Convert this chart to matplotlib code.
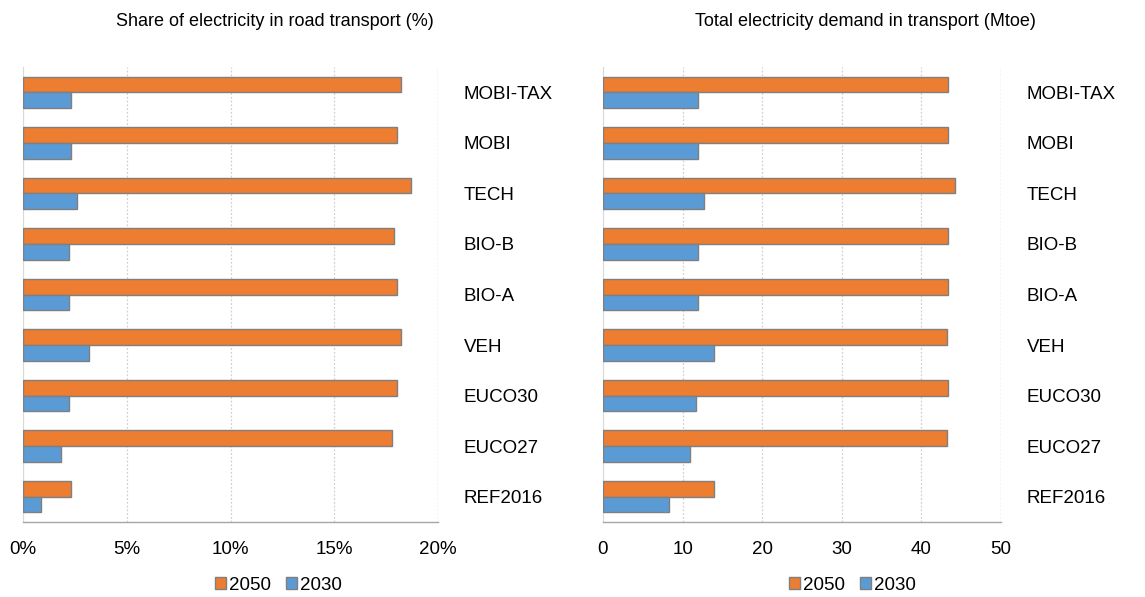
import numpy as np
import matplotlib
matplotlib.use("Agg")
import matplotlib.pyplot as plt
from matplotlib.patches import Patch

plt.rcParams['font.family'] = ['Liberation Sans', 'DejaVu Sans']

# categories top to bottom
scenarios = ['MOBI-TAX', 'MOBI', 'TECH', 'BIO-B', 'BIO-A', 'VEH', 'EUCO30', 'EUCO27', 'REF2016']

# share of electricity in road transport (%)
share_2050 = [18.2, 18.0, 18.7, 17.9, 18.0, 18.2, 18.0, 17.8, 2.3]
share_2030 = [2.3, 2.3, 2.6, 2.2, 2.2, 3.2, 2.2, 1.85, 0.85]

# total electricity demand in transport (Mtoe)
demand_2050 = [43.4, 43.4, 44.2, 43.4, 43.4, 43.2, 43.4, 43.2, 14.0]
demand_2030 = [11.9, 11.9, 12.7, 11.9, 11.9, 14.0, 11.7, 10.9, 8.3]

orange = '#ED7D31'
blue = '#5B9BD5'
edge = '#7F7F7F'

fig = plt.figure(figsize=(11.45, 5.97), dpi=100)
ax1 = fig.add_axes([23 / 1145, 1 - 522 / 597, 415 / 1145, 455 / 597])
ax2 = fig.add_axes([603 / 1145, 1 - 522 / 597, 398 / 1145, 455 / 597])


def draw(ax, v50, v30, xmax, ticks, ticklabels):
    y = np.arange(len(scenarios))
    h = 0.31
    ax.barh(y - h / 2, v50, height=h, color=orange, edgecolor=edge, linewidth=1.0, zorder=3)
    ax.barh(y + h / 2, v30, height=h, color=blue, edgecolor=edge, linewidth=1.0, zorder=3)
    ax.set_ylim(len(scenarios) - 0.5, -0.5)
    ax.set_xlim(0, xmax)
    ax.set_xticks(ticks)
    ax.set_xticklabels(ticklabels, fontsize=13.5)
    ax.set_yticks(y)
    ax.set_yticklabels(scenarios, fontsize=13.5, ha='left')
    ax.yaxis.tick_right()
    ax.tick_params(axis='y', length=0, pad=18.5)
    ax.tick_params(axis='x', length=0, pad=14)
    ax.grid(axis='x', color='#D0D0D0', linestyle=(0, (1.5, 1.5)), linewidth=0.9, zorder=0)
    for s in ['top', 'right']:
        ax.spines[s].set_visible(False)
    ax.spines['left'].set_color('#D9D9D9')
    ax.spines['bottom'].set_color('#A6A6A6')
    ax.spines['bottom'].set_linewidth(1.0)


draw(ax1, share_2050, share_2030, 20, [0, 5, 10, 15, 20], ['0%', '5%', '10%', '15%', '20%'])
draw(ax2, demand_2050, demand_2030, 50, [0, 10, 20, 30, 40, 50], ['0', '10', '20', '30', '40', '50'])
# last gridline on right edge
for ax in (ax1, ax2):
    ax.axvline(ax.get_xlim()[1], color='#D0D0D0', linestyle=(0, (1.5, 1.5)), linewidth=0.9, zorder=0)

fig.text(275 / 1145, 1 - 22 / 597, 'Share of electricity in road transport (%)',
         ha='center', va='center', fontsize=13)
fig.text(865 / 1145, 1 - 22 / 597, 'Total electricity demand in transport (Mtoe)',
         ha='center', va='center', fontsize=13)

handles = [Patch(facecolor=orange, edgecolor=edge, label='2050'),
           Patch(facecolor=blue, edgecolor=edge, label='2030')]
for cx in (278, 852):
    fig.legend(handles=handles, loc='center', bbox_to_anchor=(cx / 1145, 1 - 585 / 597),
               ncol=2, frameon=False, fontsize=13.5, handlelength=0.6, handleheight=0.6,
               handletextpad=0.15, columnspacing=0.8, borderaxespad=0)

fig.savefig('out.png', dpi=100)
